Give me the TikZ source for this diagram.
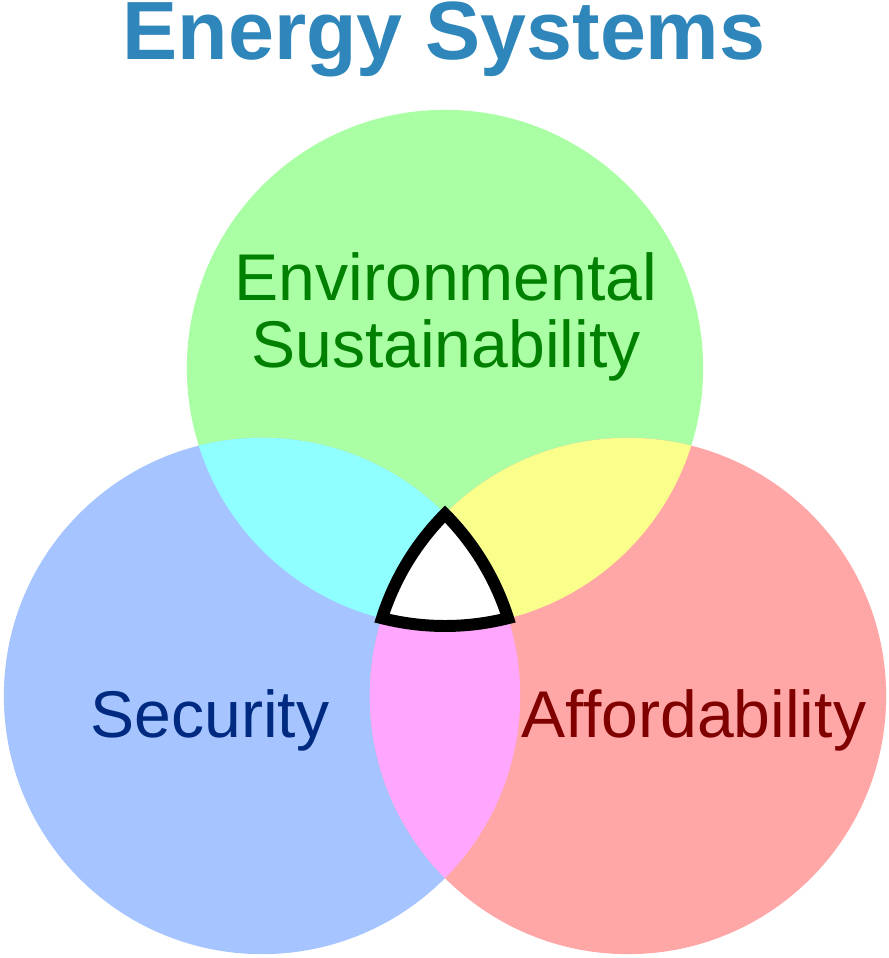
\documentclass[tikz,border=0pt]{standalone}
\usepackage{fontspec}
\setmainfont{Liberation Sans}
\usepackage{tikz}
\definecolor{envgreen}{RGB}{170,255,165}
\definecolor{secblue}{RGB}{166,196,255}
\definecolor{affred}{RGB}{255,166,166}
\definecolor{envsec}{RGB}{143,255,255}
\definecolor{envaff}{RGB}{250,255,140}
\definecolor{secaff}{RGB}{255,166,255}
\definecolor{titleblue}{RGB}{46,134,186}
\definecolor{envtext}{RGB}{0,128,0}
\definecolor{sectext}{RGB}{0,42,128}
\definecolor{afftext}{RGB}{128,0,0}
\newcommand{\rad}{2.58cm}

\begin{document}
\begin{tikzpicture}[
    x=0.01cm, y=0.01cm,
    setcircle/.style={circle, inner sep=0pt, minimum size=5.16cm},
    settext/.style={font=\fontsize{18.8}{19.1}\selectfont, align=center},
    core/.style={fill=white, draw=black, line width=3.4pt},
  ]
  \useasboundingbox (0,0) rectangle (888,958);

  % Three sets
  \node[setcircle, fill=envgreen] (env) at (445,590) {};
  \node[setcircle, fill=secblue]  (sec) at (262,262) {};
  \node[setcircle, fill=affred]   (aff) at (628,262) {};

  % Pairwise overlaps
  \begin{scope}
    \clip (env.center) circle[radius=\rad];
    \fill[envsec] (sec.center) circle[radius=\rad];
    \fill[envaff] (aff.center) circle[radius=\rad];
  \end{scope}
  \begin{scope}
    \clip (sec.center) circle[radius=\rad];
    \fill[secaff] (aff.center) circle[radius=\rad];
  \end{scope}

  % Common core (starts at the bottom of the lower arc)
  \coordinate (corebase) at (445,332);
  \draw[core] (corebase) arc[start angle=270, end angle=284.1312, radius=\rad]
    arc[start angle=17.5523, end angle=44.8218, radius=\rad]
    arc[start angle=135.1782, end angle=162.4477, radius=\rad]
    arc[start angle=255.8688, end angle=270, radius=\rad] -- cycle;

  % Labels
  \node[settext, text=envtext] (envlabel) at (446,641)
    {Environmental\\Sustainability};
  \node[settext, text=sectext, anchor=base] (seclabel) at (210,220) {Security};
  \node[settext, text=afftext, anchor=base] (afflabel) at (694,220) {Affordability};

  % Title
  \node[font=\fontsize{23.5}{28}\selectfont\bfseries, text=titleblue, anchor=base]
    (title) at (444,898) {Energy Systems};
\end{tikzpicture}
\end{document}
